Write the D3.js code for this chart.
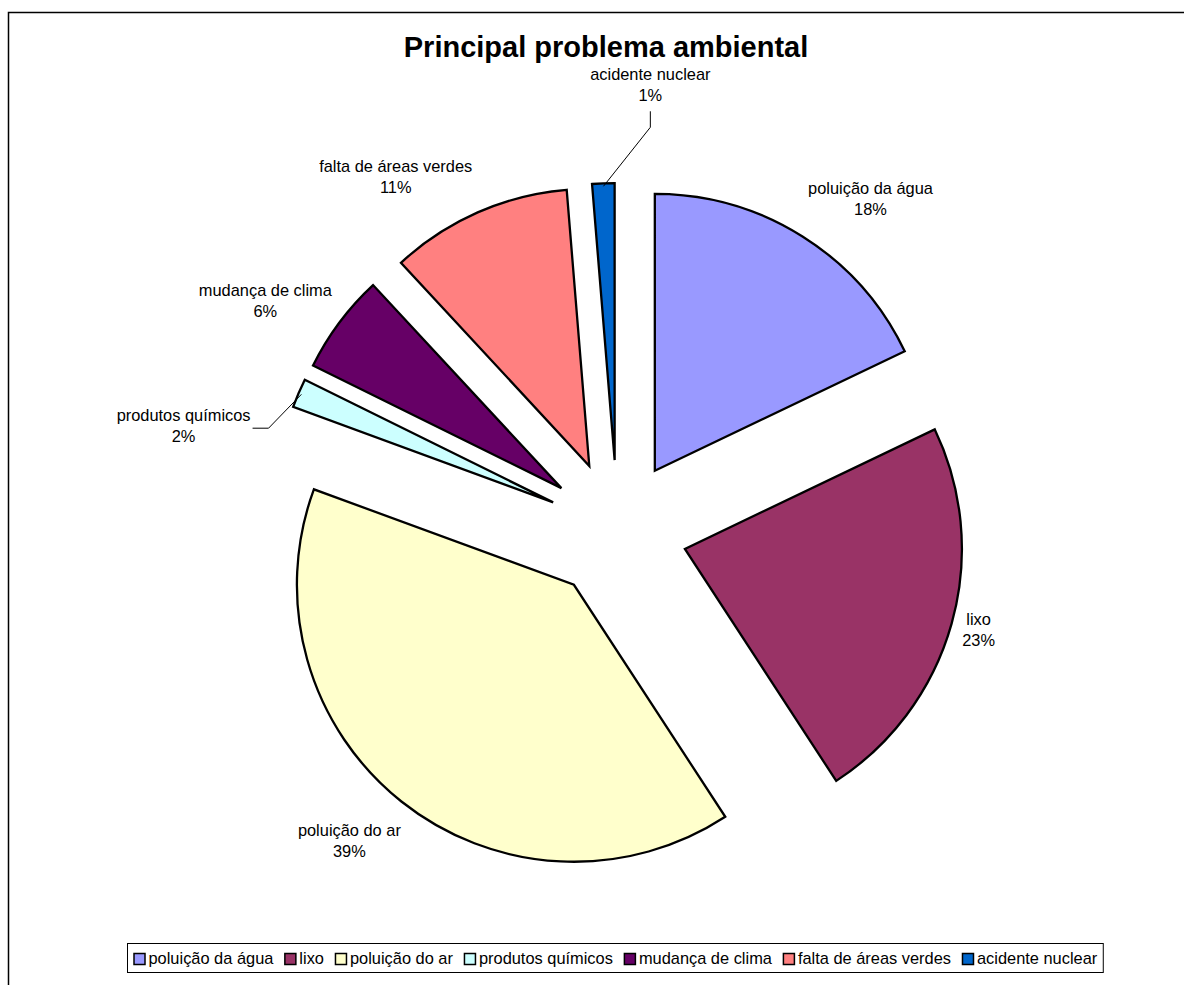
<!DOCTYPE html>
<html>
<head>
<meta charset="utf-8">
<script src="https://cdn.jsdelivr.net/npm/d3@7"></script>
<style>
  html, body { margin: 0; padding: 0; background: #fff; }
  svg { display: block; font-family: "Liberation Sans", Arial, sans-serif; }
</style>
</head>
<body>
<svg id="chart" width="1184" height="985"></svg>
<script>
// ---- DATA ----
const title = "Principal problema ambiental";
const categories = ["poluição da água", "lixo", "poluição do ar", "produtos químicos",
                    "mudança de clima", "falta de áreas verdes", "acidente nuclear"];
const values = [17.9, 22.9, 39.8, 1.7, 5.8, 10.6, 1.3];
const percentLabels = ["18%", "23%", "39%", "2%", "6%", "11%", "1%"];
const colors = ["#9999FF", "#993366", "#FFFFCC", "#CCFFFF", "#660066", "#FF8080", "#0066CC"];

// ---- LAYOUT ----
const W = 1184, H = 985;
const cx = 617.5, cy = 530, radius = 277, explode = 70;
// label anchor offsets (relative to the exploded outer-arc point at each slice's mid angle)
const labelOffsets = [[68, -42], [27, 1], [-52, 35], [-115, 28], [-74, -27], [-82, -40], [47, -103]];
const leaderSlices = {3: "left", 6: "top"};
const lineGap = 21;
const fontSize = 16.4;

const svg = d3.select("#chart");

// outer chart frame
svg.append("rect")
  .attr("x", 8.5).attr("y", 12.5).attr("width", W + 20).attr("height", H + 20)
  .attr("fill", "none").attr("stroke", "#000").attr("stroke-width", 1.5);

// title
svg.append("text")
  .attr("x", 606).attr("y", 57)
  .attr("text-anchor", "middle")
  .attr("font-size", 29).attr("font-weight", "bold")
  .attr("fill", "#000")
  .text(title);

const pie = d3.pie().sort(null).value(d => d)(values);
const arc = d3.arc().innerRadius(0).outerRadius(radius);

const g = svg.append("g").attr("transform", `translate(${cx},${cy})`);

pie.forEach((p, i) => {
  const mid = (p.startAngle + p.endAngle) / 2;
  const ox = explode * Math.sin(mid), oy = -explode * Math.cos(mid);
  g.append("path")
    .attr("d", arc(p))
    .attr("transform", `translate(${ox},${oy})`)
    .attr("fill", colors[i])
    .attr("stroke", "#000")
    .attr("stroke-width", 2.3)
    .attr("stroke-linejoin", "miter");
});

// data labels
pie.forEach((p, i) => {
  const mid = (p.startAngle + p.endAngle) / 2;
  const R = radius + explode;
  const ax = cx + R * Math.sin(mid), ay = cy - R * Math.cos(mid);
  const lx = ax + labelOffsets[i][0], ly = ay + labelOffsets[i][1];
  const t = svg.append("text")
    .attr("text-anchor", "middle")
    .attr("font-size", fontSize)
    .attr("fill", "#000");
  t.append("tspan").attr("x", lx).attr("y", ly).text(categories[i]);
  t.append("tspan").attr("x", lx).attr("y", ly + lineGap).text(percentLabels[i]);

  if (leaderSlices[i]) {
    const ex = cx + (R - 3) * Math.sin(mid), ey = cy - (R - 3) * Math.cos(mid);
    let pts;
    if (leaderSlices[i] === "left") {
      const w = t.node().getBBox().width;
      const y0 = ly + 7;
      pts = [[lx + w / 2 + 2, y0], [lx + w / 2 + 18, y0], [ex, ey]];
    } else {
      const y0 = ly + lineGap + 10;
      pts = [[lx, y0], [lx, y0 + 16], [ex, ey]];
    }
    svg.append("path")
      .attr("d", d3.line()(pts))
      .attr("fill", "none").attr("stroke", "#000").attr("stroke-width", 1);
  }
});

// legend
const legend = svg.append("g");
let x = 0;
const sq = 11, sqGap = 4, itemGap = 11;
categories.forEach((c, i) => {
  const it = legend.append("g");
  it.append("rect").attr("x", x + 0.5).attr("y", 953.5).attr("width", sq).attr("height", sq)
    .attr("fill", colors[i]).attr("stroke", "#000").attr("stroke-width", 1.5);
  const tx = it.append("text").attr("x", x + sq + sqGap).attr("y", 964)
    .attr("font-size", fontSize).attr("fill", "#000").text(c);
  const w = tx.node().getComputedTextLength();
  x += sq + sqGap + w + itemGap;
});
const contentW = x - itemGap;
const boxLeft = 127.5, padL = 6, padR = 6;
legend.attr("transform", `translate(${boxLeft + padL},0)`);
svg.insert("rect", "g")
  .attr("x", boxLeft).attr("y", 943.5)
  .attr("width", contentW + padL + padR).attr("height", 29)
  .attr("fill", "#fff").attr("stroke", "#000").attr("stroke-width", 1);
</script>
</body>
</html>
